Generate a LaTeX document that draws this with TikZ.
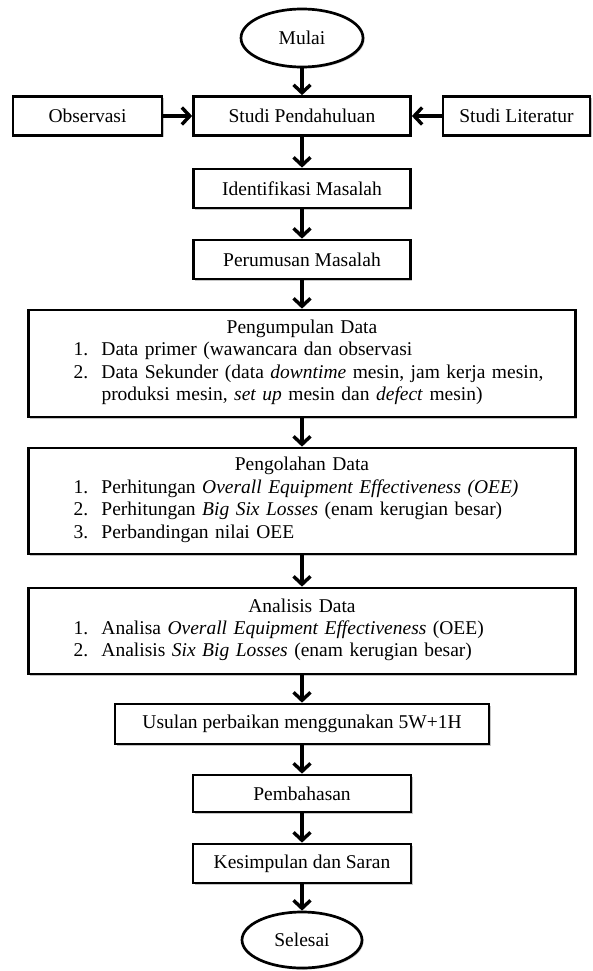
\documentclass[tikz,border=0pt]{standalone}
\usepackage{fontspec}
\setmainfont{Liberation Serif}
\usetikzlibrary{shapes.geometric,arrows.meta,shadows}

\begin{document}
\begin{tikzpicture}[x=1pt,y=-1pt,every node/.style={font=\fontsize{19.5}{22.4}\selectfont}]
  \tikzset{flow box/.style={draw,line width=2.7pt,fill=white,minimum width=#1,minimum height=39pt,inner sep=0pt,
      drop shadow={shadow xshift=1.5pt,shadow yshift=-1.5pt,fill=black!45,opacity=0.5}},
    big box/.style={flow box=547pt,text width=547pt,minimum height=#1},
    terminal/.style={draw,ellipse,line width=2.7pt,fill=white,minimum width=122pt,minimum height=58pt,inner sep=0pt,
      drop shadow={shadow xshift=1.5pt,shadow yshift=-1.5pt,fill=black!45,opacity=0.5}},
    flow arrow/.style={line width=3.4pt,-{Straight Barb[length=8pt,width=17pt]}}}
  \useasboundingbox (0,0) rectangle (593,971);

  \node [terminal] (mulai) at (302,38) {Mulai};
  \node [flow box=217pt] (studi) at (302,116) {Studi Pendahuluan};
  \node [flow box=149pt] (obs) at (87.5,116) {Observasi};
  \node [flow box=147pt] (lit) at (516.5,116) {Studi Literatur};
  \node [flow box=217pt] (ident) at (302,188.5) {Identifikasi Masalah};
  \node [flow box=217pt] (rumus) at (302,259.5) {Perumusan Masalah};
  \node [big box=107pt] (kumpul) at (302,363.5) {{\centering Pengumpulan Data\par}
    \hspace*{45pt}\begin{tabular}[t]{@{}p{28pt}@{}l@{}}
      1. & Data primer (wawancara dan observasi\\
      2. & Data Sekunder (data \textit{downtime} mesin, jam kerja mesin,\\
         & produksi mesin, \textit{set up} mesin dan \textit{defect} mesin)
    \end{tabular}};
  \node [big box=106pt] (olah) at (302,501) {{\centering Pengolahan Data\par}
    \hspace*{45pt}\begin{tabular}[t]{@{}p{28pt}@{}l@{}}
      1. & Perhitungan \textit{Overall Equipment Effectiveness (OEE)}\\
      2. & Perhitungan \textit{Big Six Losses} (enam kerugian besar)\\
      3. & Perbandingan nilai OEE
    \end{tabular}};
  \node [big box=86pt] (analisis) at (302,631) {{\centering Analisis Data\par}
    \hspace*{45pt}\begin{tabular}[t]{@{}p{28pt}@{}l@{}}
      1. & Analisa \textit{Overall Equipment Effectiveness} (OEE)\\
      2. & Analisis \textit{Six Big Losses} (enam kerugian besar)
    \end{tabular}};
  \node [flow box=374pt,minimum height=40pt] (usulan) at (302,724) {Usulan perbaikan menggunakan 5W+1H};
  \node [flow box=218pt,minimum height=37pt] (bahas) at (302,793.5) {Pembahasan};
  \node [flow box=218pt] (simpul) at (302,863.5) {Kesimpulan dan Saran};
  \node [terminal,minimum width=120pt,minimum height=56pt] (selesai) at (302,940) {Selesai};

  \draw [flow arrow] (mulai) -- (studi);
  \draw [flow arrow] (obs) -- (studi);
  \draw [flow arrow] (lit) -- (studi);
  \draw [flow arrow] (studi) -- (ident);
  \draw [flow arrow] (ident) -- (rumus);
  \draw [flow arrow] (rumus) -- (kumpul);
  \draw [flow arrow] (kumpul) -- (olah);
  \draw [flow arrow] (olah) -- (analisis);
  \draw [flow arrow] (analisis) -- (usulan);
  \draw [flow arrow] (usulan) -- (bahas);
  \draw [flow arrow] (bahas) -- (simpul);
  \draw [flow arrow] (simpul) -- (selesai);
\end{tikzpicture}
\end{document}
